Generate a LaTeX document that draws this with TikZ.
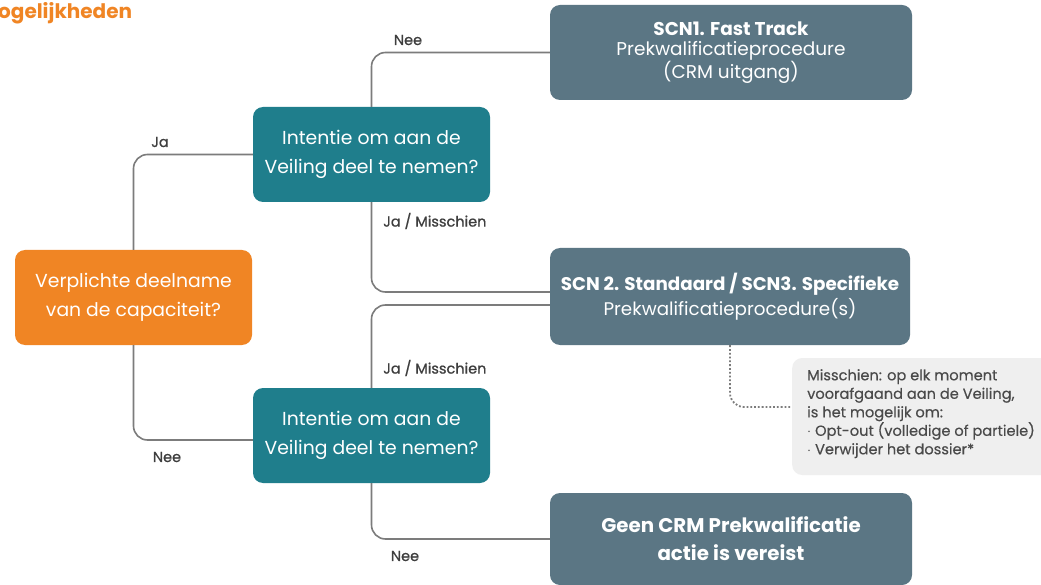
\documentclass[tikz,border=0pt]{standalone}
\usepackage{fontspec}
\setmainfont{Poppins}
\newfontfamily\semib{Poppins}[FakeBold=0.8]
\newfontfamily\notefont{Poppins}[FakeBold=0.4]
\definecolor{orangebox}{HTML}{F08524}
\definecolor{tealbox}{HTML}{1F7E8C}
\definecolor{slatebox}{HTML}{5B7684}
\definecolor{linegray}{HTML}{7C7C7C}
\definecolor{notefill}{HTML}{EFEFEF}
\definecolor{notetext}{HTML}{4A4A4A}
\definecolor{labeltext}{HTML}{3E3E3E}
\begin{document}
\begin{tikzpicture}[x=1pt,y=-1pt,
  box/.style={rounded corners=10pt, draw=none, text=white, align=center, inner sep=0pt},
  qbox/.style={box, minimum width=237pt, minimum height=95pt, font=\fontsize{18.8}{29}\selectfont},
  rbox/.style={box, fill=slatebox, minimum width=362pt, font=\fontsize{18.5}{20.5}\selectfont},
  conn/.style={draw=linegray, line width=1.6pt, rounded corners=14pt},
  lbl/.style={text=labeltext, font=\semib\fontsize{14.5}{16}\selectfont, inner sep=0pt}
]
\useasboundingbox (0,0) rectangle (1041,585);
\fill[white] (0,0) rectangle (1041,585);

% title (cut off at left edge)
\node[anchor=west, text=orangebox, font=\bfseries\fontsize{20}{22}\selectfont, inner sep=0pt] (title) at (-2,13) {ogelijkheden};

% boxes
\node[qbox, fill=orangebox] (orange) at (133.5,297.5) {Verplichte deelname\\van de capaciteit?};
\node[qbox, fill=tealbox] (tealtop) at (371.5,154.5) {Intentie om aan de\\Veiling deel te nemen?};
\node[qbox, fill=tealbox] (tealbot) at (371.5,435.5) {Intentie om aan de\\Veiling deel te nemen?};
\node[rbox, minimum height=95pt] (scn1) at (731,52.5) {\textbf{SCN1. Fast Track}\\Prekwalificatieprocedure\\(CRM uitgang)};
\node[rbox, minimum width=360pt, minimum height=97pt, font=\fontsize{18.3}{25}\selectfont] (scn2) at (730,296.5) {\textbf{SCN 2. Standaard / SCN3. Specifieke}\\Prekwalificatieprocedure(s)};
\node[rbox, minimum height=92pt, font=\bfseries\fontsize{19.8}{28}\selectfont] (geen) at (731,539) {Geen CRM Prekwalificatie\\actie is vereist};

% note box
\node[rounded corners=10pt, fill=notefill, minimum width=262pt, minimum height=117pt, anchor=west, inner sep=0pt] (note) at (792,416.5) {};
\node[anchor=north west, text=notetext, align=left, inner sep=0pt, font=\notefont\fontsize{14.6}{18.5}\selectfont] (notetxt) at (807,369)
  {Misschien: op elk moment\\voorafgaand aan de Veiling,\\is het mogelijk om:\\$\cdot$ Opt-out (volledige of partiele)\\$\cdot$ Verwijder het dossier*};

% connectors
\draw[conn] (orange.north) |- (tealtop.west);
\draw[conn] (orange.south) |- ([yshift=-4.5pt]tealbot.west);
\draw[conn] (tealtop.north) |- (scn1.west);
\draw[conn] (tealtop.south) |- ([yshift=4.5pt]scn2.west);
\draw[conn] ([yshift=-8.5pt]scn2.west) -| (tealbot.north);
\draw[conn] (tealbot.south) |- (geen.west);
\draw[draw=linegray, line width=1.8pt, dotted, rounded corners=14pt] (scn2.south) |- ([yshift=9.5pt]note.west);

% labels
\node[lbl] (lja) at (160,142) {Ja};
\node[lbl] (lnee1) at (167,457) {Nee};
\node[lbl] (lnee2) at (408,40) {Nee};
\node[lbl, anchor=west] (ljm1) at (383,221) {Ja / Misschien};
\node[lbl, anchor=west] (ljm2) at (383,368) {Ja / Misschien};
\node[lbl] (lnee3) at (405,556) {Nee};
\end{tikzpicture}
\end{document}
